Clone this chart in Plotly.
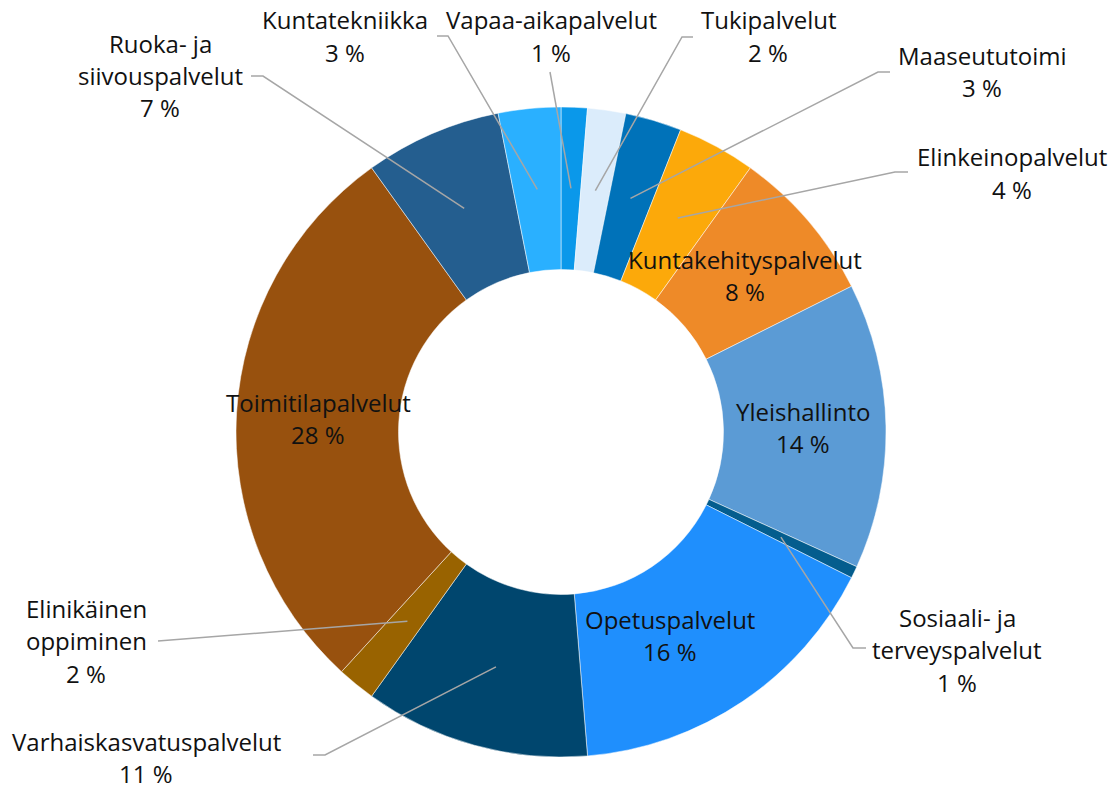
import math
import plotly.graph_objects as go

# ---------------- data ----------------
categories = [
    "Vapaa-aikapalvelut", "Tukipalvelut", "Maaseututoimi", "Elinkeinopalvelut",
    "Kuntakehityspalvelut", "Yleishallinto", "Sosiaali- ja terveyspalvelut",
    "Opetuspalvelut", "Varhaiskasvatuspalvelut", "Elinikäinen oppiminen",
    "Toimitilapalvelut", "Ruoka- ja siivouspalvelut", "Kuntatekniikka",
]
values = [1.3, 1.9, 2.8, 3.9, 7.7, 14.2, 0.6, 16.3, 11.2, 1.9, 28.3, 6.8, 3.1]
colors = [
    "#0a98ea", "#dbecfb", "#0072b9", "#fca90a", "#ee8a28", "#5b9bd5", "#045d8e",
    "#1f8ffd", "#00466e", "#996300", "#98510e", "#245e8f", "#2ab0ff",
]
line_breaks = {
    "Ruoka- ja siivouspalvelut": ["Ruoka- ja", "siivouspalvelut"],
    "Sosiaali- ja terveyspalvelut": ["Sosiaali- ja", "terveyspalvelut"],
    "Elinikäinen oppiminen": ["Elinikäinen", "oppiminen"],
}

# ---------------- layout (pixels) ----------------
W, H = 1116, 787
CX, CY, R = 561, 432, 325
HOLE = 0.5
FONT = "Open Sans, DejaVu Sans, sans-serif"
FS = 24
LINE_H = 32.5
TXT = "#111111"
LEADER = "#a6a6a6"

# label placement: center x, first line center y, leader polyline from text side (or None)
label_pos = {
    "Vapaa-aikapalvelut": (551, 20, [(550, 72)]),
    "Tukipalvelut": (768, 20, [(693, 37), (682, 37)]),
    "Maaseututoimi": (982, 55, [(890, 72), (878, 72)]),
    "Elinkeinopalvelut": (1012, 157, [(908, 172), (895, 172)]),
    "Kuntakehityspalvelut": (745, 259, None),
    "Yleishallinto": (803, 411, None),
    "Sosiaali- ja terveyspalvelut": (957, 617, [(866, 648), (853, 648)]),
    "Opetuspalvelut": (670, 619, None),
    "Varhaiskasvatuspalvelut": (146, 741, [(313, 755), (325, 755)]),
    "Elinikäinen oppiminen": (86, 608, [(158, 641)]),
    "Toimitilapalvelut": (318, 402, None),
    "Ruoka- ja siivouspalvelut": (160, 43, [(251, 76), (263, 76)]),
    "Kuntatekniikka": (345, 20, [(437, 36), (448, 36)]),
}


def px(x, y):
    return x / W, 1 - y / H


fig = go.Figure()
fig.add_trace(go.Pie(
    labels=categories,
    values=values,
    sort=False,
    direction="clockwise",
    rotation=0,
    hole=HOLE,
    marker=dict(colors=colors, line=dict(color="white", width=0.5)),
    textinfo="none",
    hoverinfo="label+percent",
    showlegend=False,
    domain=dict(x=[(CX - R) / W, (CX + R) / W], y=[1 - (CY + R) / H, 1 - (CY - R) / H]),
))

total = sum(values)
annotations = []
shapes = []
cum = 0.0
for name, v in zip(categories, values):
    mid = (cum + v / 2) / total * 2 * math.pi
    cum += v
    rr = R * (1 + HOLE) / 2
    ax = CX + rr * math.sin(mid)
    ay = CY - rr * math.cos(mid)
    lx, ly, pts = label_pos[name]
    lines = line_breaks.get(name, [name]) + [f"{round(v / total * 100)} %"]
    for i, t in enumerate(lines):
        xp, yp = px(lx, ly + i * LINE_H)
        annotations.append(dict(
            x=xp, y=yp, xref="paper", yref="paper", text=t, showarrow=False,
            xanchor="center", yanchor="middle",
            font=dict(family=FONT, size=FS, color=TXT),
        ))
    if pts:
        poly = pts + [(ax, ay)]
        path = ""
        for j, (x, y) in enumerate(poly):
            xp, yp = px(x, y)
            path += ("M" if j == 0 else " L") + f" {xp:.5f} {yp:.5f}"
        shapes.append(dict(type="path", path=path, xref="paper", yref="paper",
                           line=dict(color=LEADER, width=1.5)))

fig.update_layout(
    width=W, height=H,
    margin=dict(l=0, r=0, t=0, b=0),
    paper_bgcolor="white", plot_bgcolor="white",
    annotations=annotations, shapes=shapes,
)
fig.write_html(
    "out.html",
    config={"displayModeBar": False},
    post_script="document.body.style.margin='0';document.body.style.overflow='hidden';",
)
